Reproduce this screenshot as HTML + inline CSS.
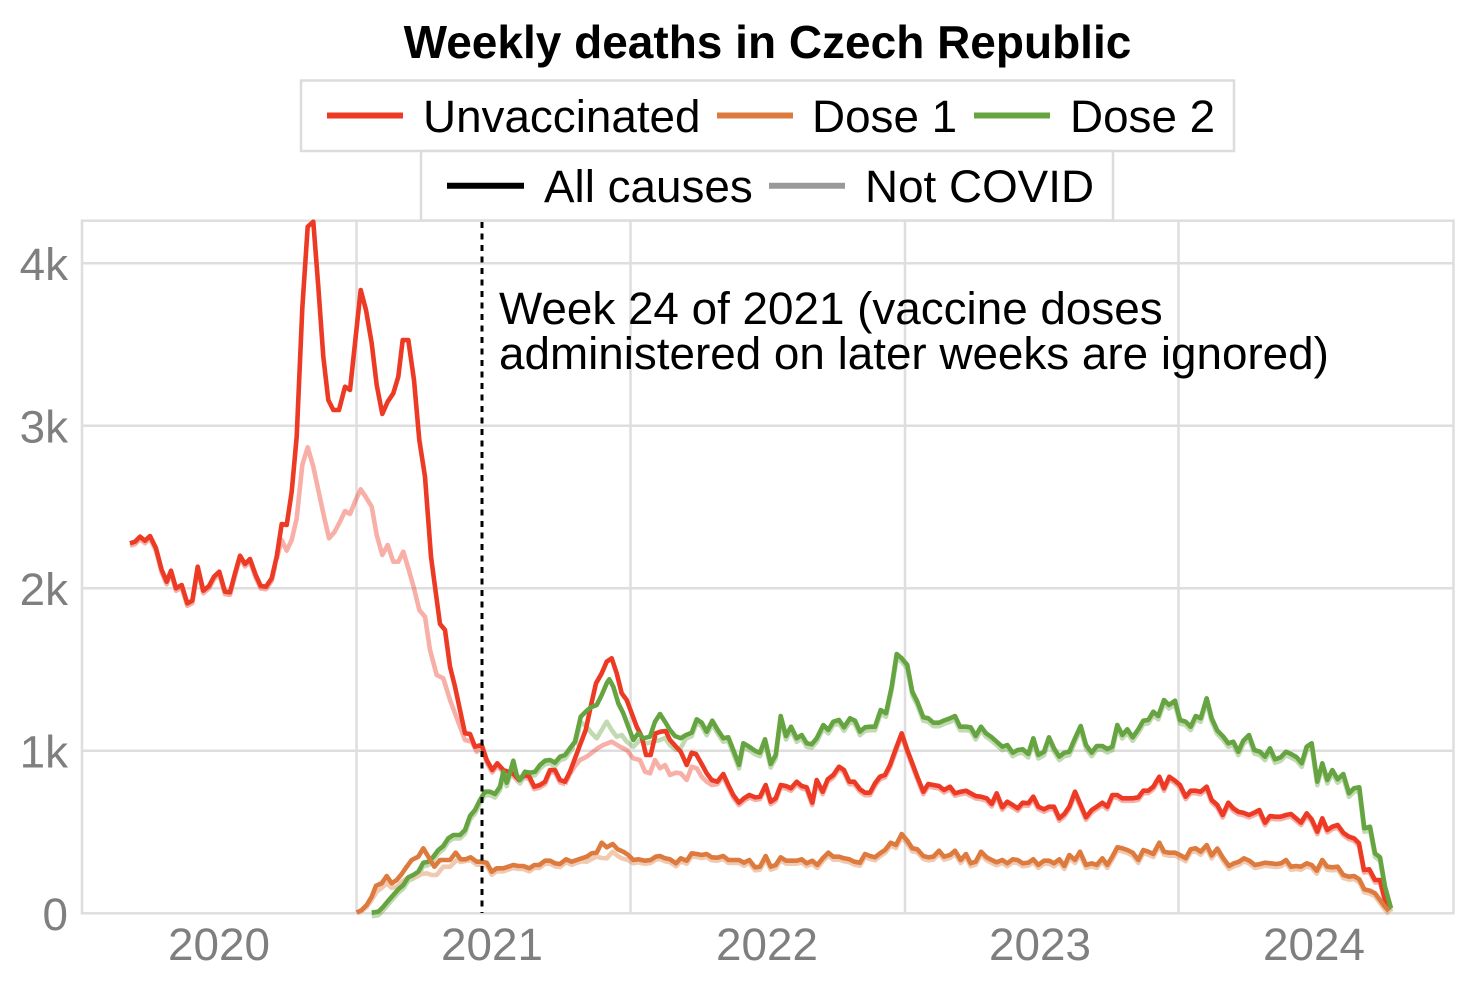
<!DOCTYPE html>
<html><head><meta charset="utf-8"><style>
html,body{margin:0;padding:0;background:#fff;}
svg{display:block;}
text{font-family:"Liberation Sans",Arial,sans-serif;}
</style></head><body>
<svg width="1470" height="990" viewBox="0 0 1470 990" xmlns="http://www.w3.org/2000/svg">
<defs>
<polyline id="red" fill="none" points="130,543.3 135,541.7 140,536.7 145,540.7 150,536 156,548.3 161.7,570 166.7,581.7 171,570.7 176,588.3 181.7,585 187.3,603.3 192.3,600.7 197.7,566.7 203.3,590.7 209,586 214,576.7 219.3,571.7 225,591.7 230,592.3 235,573.3 240,555.7 245,564 250,559 255.7,575 260.7,586 266,586.7 271.7,578.3 276.7,556.7 281.7,524 286.7,525 291.7,491.7 296.7,436.7 302.3,308.3 307.7,226.7 313.3,221.7 318.3,286.7 323.3,356.7 328.3,400 333.3,410 339,410 345,386.7 350,390 355.7,336.7 360.7,290 366,310 371.7,343.3 376.7,385 382.3,414 387.7,401.7 393.3,393.3 398.3,376.7 402.7,340 408.3,340 414,380 419.3,440 425,476.7 431,556.7 436.5,598 440,624 445,630 450,666.7 455,686.7 460,710 465,733.3 470,734 475,746.7 481.7,745 486.7,760 492.3,770 497.3,763.3 503.3,770 508.3,771.7 513.5,774 519,780 525,775 529.3,776.7 534.3,786.7 540,785 545,781.7 550,770 555,770 560,780 565,781.7 570,771.7 575,758.3 580,745 585.7,730 590.7,706.7 596,683.3 601.7,673.3 606.7,661.7 611.7,658.3 616.7,673.3 621.7,693.3 626.7,700 631.7,713.3 636.7,726.7 641.7,736.7 646,755 650.7,755 655.7,733.3 660.7,731.7 665.7,731 670,740 676,746.7 680.7,751.7 686.7,765 691.7,752.7 696,754 701.7,764 706.7,773.3 711.7,780 717.3,781.7 723.3,774 728.3,785 733.3,795 739,802.7 744,798.3 749.3,795 755,797.3 760,796.7 765.7,785 770.7,801.7 775.7,798.3 780.7,785 786,786 791,788.3 796.7,781.7 801.7,786 806.7,787.3 812.3,802.7 816.7,780 822.7,791.7 827.7,779.3 833.3,775 839,766.7 844,770 849.3,781.7 854.3,781.7 860,789.3 865,792.7 870,792.7 875,783.3 880,776.7 885,775 890,765 896,748.3 901.7,733.3 907.3,750 912.3,763.3 917.3,776.7 923.3,791.7 928.3,784 933.3,785 939,786 944,790 950,786.7 955,793.3 960.7,791.7 966,790.7 970.7,793.3 975.7,796 981,796.7 986.7,798.3 991.7,804 996.7,793.3 1002.3,807.3 1007.3,801.7 1012.7,805 1017.7,808.3 1022.7,802.7 1028.3,803.3 1033.3,796.7 1038.3,806.7 1044,809.3 1049,806.7 1054,806.7 1059.3,818.3 1064.3,814 1069.3,806.7 1075,791.7 1080.7,805 1086,817.3 1091.7,810 1096.7,806.7 1102.3,802.7 1107.3,806.7 1112.3,795 1117.3,795 1122.3,798.3 1127.3,798.3 1132.7,798.3 1138.3,797.3 1143.3,790.7 1148.3,790.7 1153.3,786.7 1159.3,776.7 1164,788.3 1169.3,776.7 1175,780.7 1180,785 1185.7,796.7 1190.7,790.7 1195.7,790.7 1200.7,791.7 1206.7,786.7 1211.7,800 1217.3,805 1222.7,815 1228.3,802.7 1233.3,808.3 1238.3,811.7 1243.3,812.7 1249,815 1254.3,812.7 1259.3,810 1265,822.7 1270,816 1275,816.7 1280.7,816.7 1286,815 1291,814 1296,818.3 1301,822.7 1306.7,813.3 1311.7,819.3 1317.3,831.7 1322.3,818.3 1327.3,830 1332.3,826.7 1337.7,825 1343.3,832.7 1349,836.7 1354,838.3 1359,843.3 1364,870 1369.3,869.3 1375,880 1380,880 1385,900 1389.3,910"/>
<polyline id="green" fill="none" points="371.7,912.7 378.3,911.7 383.3,906.7 388.3,900.7 393.3,895 398.3,889.3 403.3,885 408.3,877.3 413.3,875 418.3,871.7 423.3,862.7 428.3,861.7 433.3,856.7 438.3,850 443.3,846 448.3,838.3 453.3,835 460,835 465,830 470,816 475,810 480,800 485,791.7 490,791.7 495,794 500,786.7 503.3,771.7 506.7,782.7 510,772.7 513.3,760.7 516.7,775 520,780 525,771.7 530,772.7 535,771.7 540,765 545,760.7 550,760 555,762.7 560,756.7 565,755 570,748.3 575,741.7 580.7,716.7 585.7,711.7 590.7,707.3 596.7,705 601.7,695 606.7,683.3 609.3,679.3 613.3,686.7 618.3,703.3 623.3,713.3 628.3,726.7 633.3,740 638.3,733.3 643.3,738.3 650,736.7 655,721.7 660,714 665,721.7 670,730 675,736 680.7,738.3 686,735 691.7,732.7 696.7,719.3 701.7,722.7 706.7,731.7 712.3,720.7 717.3,729.3 723.3,738.3 728.3,737.3 733.3,750 739,765 743.3,743.3 749.3,746.7 755,750.7 760,752.7 765,739.3 770.7,764 775.7,755 780.7,716 786,736 791,726.7 796.7,738.3 801.7,735 806.7,743.3 811.7,744.3 816.7,738.3 823.3,725 828.3,730 833.3,721.7 839,720 844,727.3 850,718.3 855,720.7 860,731.7 865,727.3 870,726.7 875,726.7 880.7,710 886,713.3 891.7,686.7 896.7,654 901.7,658.3 907.3,665 912.3,691.7 917.3,701.7 923.3,717.3 928.3,718.3 933.3,722.7 939,722.7 944,720.5 950,718.3 955,716 960,726.7 966,726.7 970.7,727.3 975.7,736 981,726.7 986,733.3 991.7,737.3 996.7,741.7 1002.3,746.7 1007.3,745 1012.7,752.7 1017.7,750 1022.7,749.3 1028.3,754 1033.3,738.3 1038.3,755 1044,751.7 1049,737.3 1054,748.3 1059.3,756.7 1064.3,752.7 1069.3,751.7 1075,738.3 1080.7,726 1086,745 1091.7,752.7 1096.7,746 1102.3,746 1107.3,749 1112.3,746.7 1117.3,725 1122.3,735 1127.3,729.3 1132.7,737.3 1138.3,729.3 1143.3,720.7 1148.3,720 1153.3,711.7 1158.3,716 1164,700 1169,705 1175,700.7 1180,720 1185.7,721.7 1190.7,726.7 1195.7,716 1200.7,718.3 1206.7,698.3 1211.7,718.3 1217.3,730.5 1223.3,736.7 1228.3,743.3 1233.3,741.7 1238.3,751.7 1243.3,740.7 1249,735 1254.3,750 1260,751.7 1265,756.7 1270,748.3 1275,759.3 1280.7,757.3 1286,751.7 1291,754 1296.7,757.3 1301.7,763.3 1306.7,746.7 1311.7,743.3 1317.3,781.7 1322.3,763.3 1327.3,780 1332.3,770 1337.7,779.3 1343.3,774 1349,793.3 1354,788.3 1359.3,787.3 1364.3,828.3 1370,826.7 1375,853.3 1380,857.3 1385,886.7 1391,908.3"/>
<polyline id="orange" fill="none" points="356.7,912.7 361.7,910 366.7,905 371.7,896.7 376,885.7 381.7,883.3 386.7,876 391.7,883.3 396.7,880 401.7,874 406.7,866.7 411.7,860 418.3,856.7 423.3,848.3 428.3,856.7 434.3,866.7 440,860 445,860 450,860 455.7,852.7 460.7,859.3 465.7,859.3 470.7,857.3 476.7,861.7 481.7,861.7 486.7,862.7 491.7,871.7 496.7,868.3 503.3,868.3 508.3,866.7 513.3,865 518.3,866 523.3,866 529.3,868.3 534.3,865 539.3,865 545,860.7 550,860.7 555,863.3 560,864 566,859.3 571.7,861.7 576.7,860 581.7,858.3 586.7,856.7 591.7,853.3 596.7,852.7 601.7,842.7 606.7,847.3 612.7,844 617.7,849.3 623.3,851.7 628.3,855 633.3,860 638.3,859.3 645,860.7 650.7,860 655.7,856.7 660,856 665,858.3 670,859.3 676,863.3 680.7,858.3 686.7,860.7 691.7,853.3 696.7,854 701.7,855 706.7,854 711.7,857.3 717.3,857.7 723.3,856 728.3,860 733.3,860 739,860 744,862.7 749.3,860 755,867.3 760,866.7 765.7,856 770.7,866.7 775.7,865 780.7,857.3 786,860.7 791,860.7 796.7,860.7 801.7,859.3 806.7,863.3 812.3,860.7 817.3,865 822.7,858.3 828.3,852.7 833.3,856.7 839,856.7 844,858.3 849.3,859.3 854.3,861.7 860,862.7 865,854 870,856 875,857.3 880,853.3 885,850 890.7,842.7 896,845 901.7,834 907.3,840.7 912.3,848.3 917.3,849.3 923.3,856 928.3,857.3 933.3,856.7 939,850.7 944,856.7 950,855 955,850.7 960.7,860 966,854 970.7,863.3 975.7,861.7 981,851.7 986.7,857.3 991.7,860 996.7,862.3 1002.3,860 1007.3,863.3 1012.7,859.3 1017.7,860 1022.7,863.3 1028.3,862.7 1033.3,859.3 1038.3,865 1044,860.7 1049,860.7 1054,863.3 1059.3,859.3 1064.3,866 1069.3,855 1075,860 1080,851.7 1086,865 1091.7,863.3 1096.7,865 1102.3,858.3 1107.3,865 1112.3,856.7 1117.3,847.3 1122.3,848.3 1127.3,850 1132.7,852.7 1138.3,860 1143.3,850 1148.3,851.7 1153.3,854 1159.3,842.7 1164,851.7 1169.3,852.7 1175,852.7 1180,855 1185.7,858.3 1190.7,849.3 1195.7,848.3 1200.7,851.7 1206.7,845 1211.7,855.5 1217.3,848.5 1223.3,858.3 1229,866 1234,863.3 1239,861.7 1244,858.3 1249.3,860.7 1255,865 1260,864 1265,862.7 1270.7,863.3 1276,864 1281,863.3 1286,860 1291,866.7 1296,866 1301,866.7 1306.7,863.3 1311.7,865 1316.7,870.7 1322.3,860 1327.3,866.7 1332.3,867.3 1337.7,866.7 1343.3,875 1349,876.7 1354,876 1359.3,879.3 1364.3,889.3 1370,890.7 1375,893.3 1380,900 1385,906.7 1389,911"/>
<clipPath id="cpPink"><rect x="0" y="0" width="277" height="990"/><rect x="481.7" y="0" width="83.3" height="990"/><rect x="717.3" y="0" width="760" height="990"/></clipPath>
<clipPath id="cpLG"><rect x="0" y="0" width="575" height="990"/><rect x="691.7" y="0" width="800" height="990"/></clipPath>
<clipPath id="cpLO"><rect x="470.7" y="0" width="111" height="990"/><rect x="638.3" y="0" width="840" height="990"/></clipPath>
</defs>

<!-- title -->
<text x="767.5" y="58" font-size="46" font-weight="bold" text-anchor="middle" fill="#000">Weekly deaths in Czech Republic</text>

<!-- legend -->
<rect x="301" y="80.5" width="933" height="70.5" fill="#fff" stroke="#dcdcdc" stroke-width="2.5"/>
<rect x="421" y="151" width="692" height="69.5" fill="#fff" stroke="#dcdcdc" stroke-width="2.5"/>
<line x1="327" y1="115.5" x2="403" y2="115.5" stroke="#ec3a25" stroke-width="6"/>
<text x="423" y="132" font-size="45.8" fill="#000">Unvaccinated</text>
<line x1="717" y1="115.5" x2="793" y2="115.5" stroke="#dd7a3e" stroke-width="6"/>
<text x="812" y="132" font-size="45.8" fill="#000">Dose 1</text>
<line x1="974" y1="115.5" x2="1050" y2="115.5" stroke="#65a441" stroke-width="6"/>
<text x="1070" y="132" font-size="45.8" fill="#000">Dose 2</text>
<line x1="447" y1="185.7" x2="524" y2="185.7" stroke="#000" stroke-width="6"/>
<text x="544" y="202" font-size="45.8" fill="#000">All causes</text>
<line x1="769" y1="185.7" x2="845" y2="185.7" stroke="#999" stroke-width="6"/>
<text x="865" y="202" font-size="45.8" fill="#000">Not COVID</text>

<!-- panel grid -->
<g stroke="#dedede" stroke-width="2.5" fill="none">
<line x1="82" y1="263.3" x2="1453.5" y2="263.3"/>
<line x1="82" y1="425.8" x2="1453.5" y2="425.8"/>
<line x1="82" y1="588.3" x2="1453.5" y2="588.3"/>
<line x1="82" y1="750.8" x2="1453.5" y2="750.8"/>
<line x1="356.5" y1="220.7" x2="356.5" y2="913.3"/>
<line x1="630.5" y1="220.7" x2="630.5" y2="913.3"/>
<line x1="905" y1="220.7" x2="905" y2="913.3"/>
<line x1="1178.5" y1="220.7" x2="1178.5" y2="913.3"/>
<rect x="82" y="220.7" width="1371.5" height="692.6"/>
</g>

<!-- axis labels -->
<g font-size="45.8" fill="#7f7f7f" text-anchor="end">
<text x="68" y="280">4k</text>
<text x="68" y="442.5">3k</text>
<text x="68" y="605">2k</text>
<text x="68" y="767.5">1k</text>
<text x="68" y="930">0</text>
</g>
<g font-size="45.8" fill="#7f7f7f" text-anchor="middle">
<text x="219" y="960">2020</text>
<text x="492" y="960">2021</text>
<text x="767" y="960">2022</text>
<text x="1040" y="960">2023</text>
<text x="1314" y="960">2024</text>
</g>

<!-- faded (Not COVID) series -->
<g fill="none" stroke-width="4.6" stroke-linejoin="round" stroke-linecap="butt" opacity="0.4">
<g clip-path="url(#cpPink)"><use href="#red" stroke="#ec3a25" transform="translate(0,2.5)"/></g>
<polyline stroke="#ec3a25" points="276.7,559 281.7,540 286.7,550.7 291.7,540 296.7,518.3 302.3,465 307.7,447.3 313.3,466.7 318.3,490 323.3,513.3 329,538.3 334.3,532.3 340,521.7 345,511 350,514 355.7,500 360.7,489.3 366,497.3 371.7,506.7 376.7,535 382.3,555 387.7,545 393.3,561.7 398.3,561.7 403.3,551.7 408.3,568.3 414,588.3 419.3,610 425,616.7 430,650 436.7,675 443.3,678.3 450,700 455,713.3 460,726.7 465,740 471.7,741.7 476.7,751.7 481.7,747.5"/>
<polyline stroke="#ec3a25" points="565,784.2 570,774 575,766 580,760 586.7,756.7 593.3,751.7 598,748 603.3,745 611.7,741.7 620,746.7 626.7,750 633.3,758.3 640,760 645,771.7 650,773.3 655,760 660,768.3 665,765 670,775 676,772.7 680.7,773.3 686.7,780 691.7,766.7 696.7,768.3 701.7,776.7 706.7,781.7 711.7,785 717.3,784.2"/>
<g clip-path="url(#cpLG)"><use href="#green" stroke="#65a441" transform="translate(0,3.5)"/></g>
<polyline stroke="#65a441" points="575,745.2 580.7,722 586.7,726.7 591.7,733.3 596.7,738.3 601.7,730 606.7,721.7 611.7,730 616.7,736.7 621.7,735 626.7,741.7 633.3,746.7 640,740 646.7,743.3 653.3,741.7 660,740 665,738 670,745 676,750 680.7,748 686,738.5 691.7,736.2"/>
<g clip-path="url(#cpLO)"><use href="#orange" stroke="#dd7a3e" transform="translate(0,3)"/></g>
<polyline stroke="#dd7a3e" points="356.7,912.7 361.7,911 366.7,907 371.7,900 376.7,891.7 381.7,888 386.7,883.3 391.7,888 396.7,886.7 401.7,882 406.7,878.3 411.7,877 416.7,876.7 421.7,874 426.7,873.3 431.7,875 436.7,875 443.3,866.7 450,866.7 456.7,860 461,862 466.7,860.7 470.7,860.3"/>
<polyline stroke="#dd7a3e" points="581.7,861.3 586.7,861.7 591.7,859 596.7,856.7 601.7,858 606.7,858.3 612.7,851.7 617.7,856 621.7,858.3 628.3,860 633.3,863.3 638.3,862.3"/>
</g>

<!-- solid (All causes) series -->
<g fill="none" stroke-width="4.6" stroke-linejoin="round" stroke-linecap="butt">
<use href="#red" stroke="#ec3a25"/>
<use href="#green" stroke="#65a441"/>
<use href="#orange" stroke="#dd7a3e"/>
</g>

<!-- week 24 marker -->
<line x1="482" y1="222" x2="482" y2="913" stroke="#000" stroke-width="3" stroke-dasharray="6 5.5"/>
<text x="499" y="324" font-size="45.8" fill="#000">Week 24 of 2021 (vaccine doses</text>
<text x="499" y="369" font-size="45.8" fill="#000">administered on later weeks are ignored)</text>
</svg>
</body></html>
